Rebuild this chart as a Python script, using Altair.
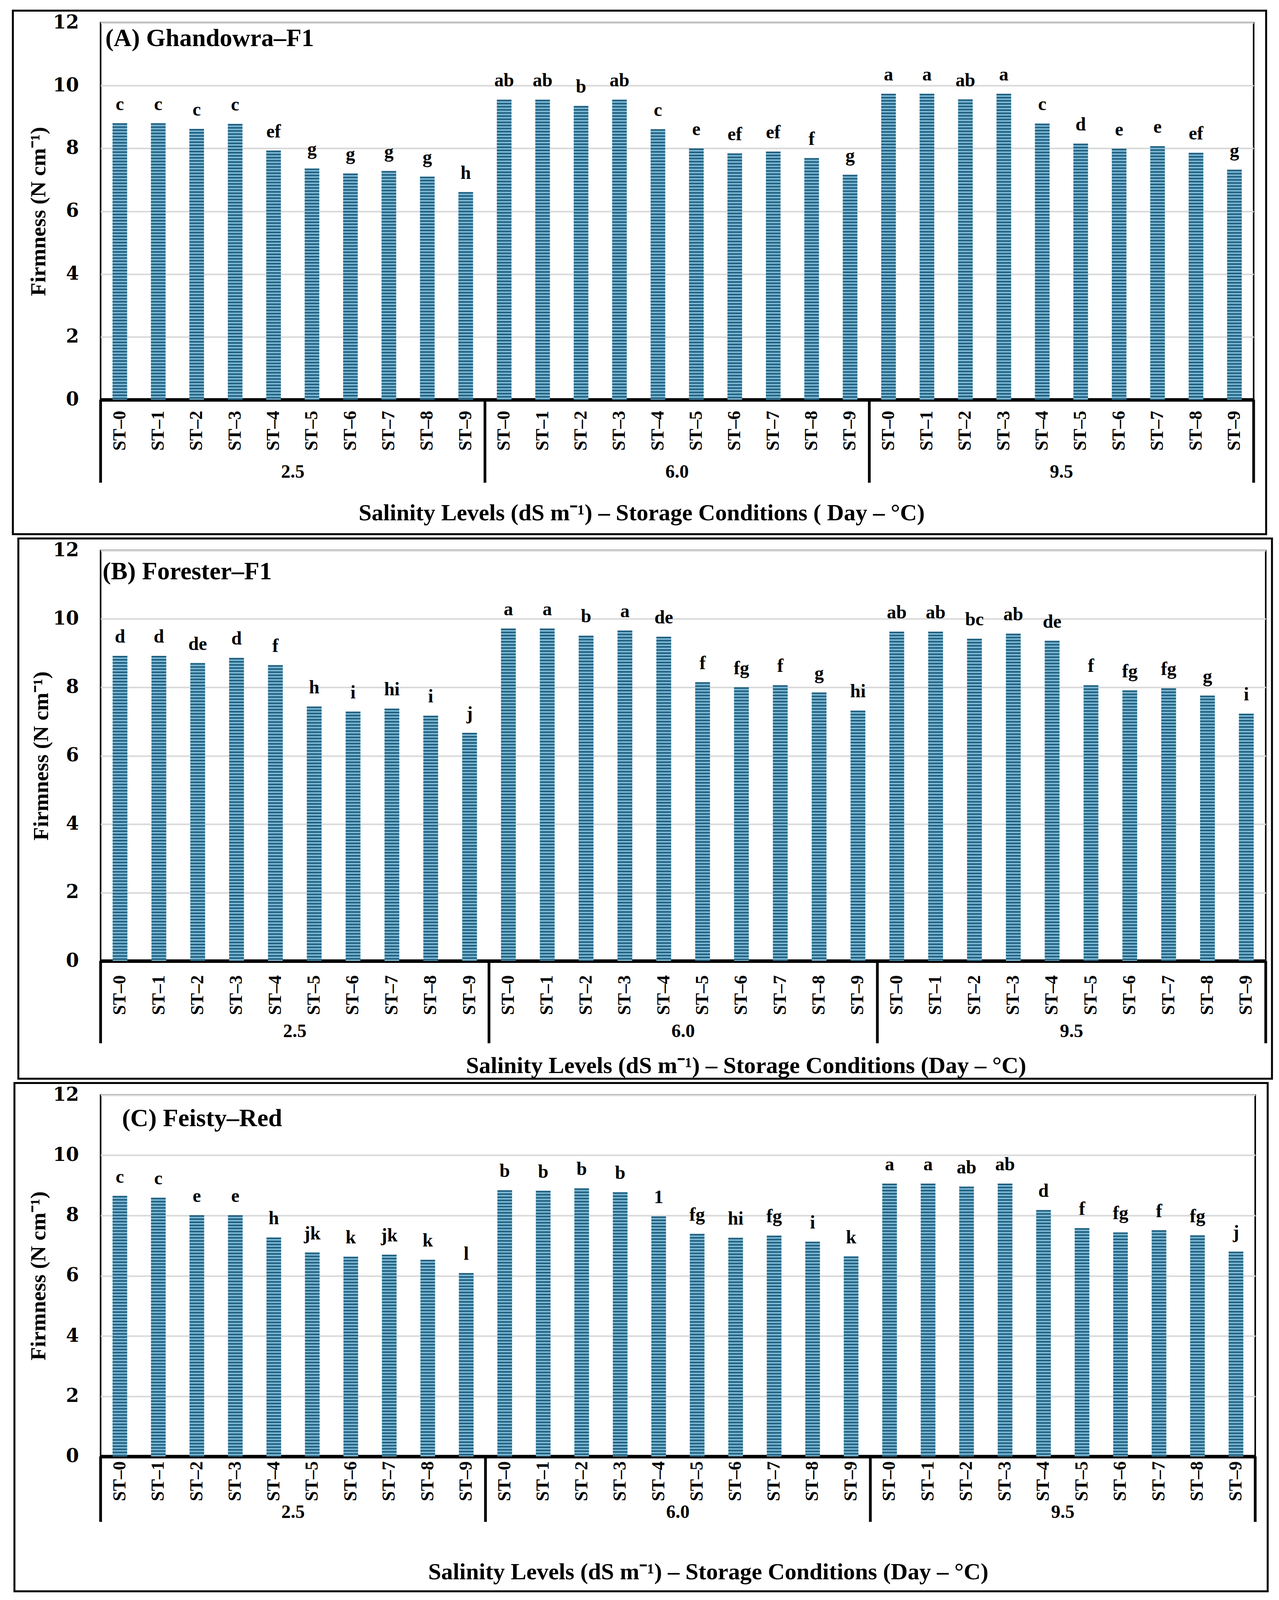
import altair as alt
import pandas as pd

salinity = ["2.5", "6.0", "9.5"]
storage = ["ST–0", "ST–1", "ST–2", "ST–3", "ST–4", "ST–5", "ST–6", "ST–7", "ST–8", "ST–9"]

a_title = "(A) Ghandowra–F1"
a_vals = [8.80, 8.80, 8.62, 8.78, 7.93, 7.36, 7.20, 7.28, 7.10, 6.61,
          9.55, 9.55, 9.35, 9.55, 8.61, 8.00, 7.84, 7.90, 7.69, 7.16,
          9.74, 9.74, 9.56, 9.74, 8.79, 8.15, 7.99, 8.07, 7.86, 7.32]
a_letters = ["c", "c", "c", "c", "ef", "g", "g", "g", "g", "h",
             "ab", "ab", "b", "ab", "c", "e", "ef", "ef", "f", "g",
             "a", "a", "ab", "a", "c", "d", "e", "e", "ef", "g"]

b_title = "(B) Forester–F1"
b_vals = [8.92, 8.92, 8.71, 8.86, 8.65, 7.44, 7.29, 7.38, 7.17, 6.67,
          9.72, 9.72, 9.51, 9.66, 9.48, 8.15, 8.00, 8.06, 7.85, 7.32,
          9.63, 9.63, 9.42, 9.57, 9.36, 8.06, 7.91, 7.97, 7.76, 7.23]
b_letters = ["d", "d", "de", "d", "f", "h", "i", "hi", "i", "j",
             "a", "a", "b", "a", "de", "f", "fg", "f", "g", "hi",
             "ab", "ab", "bc", "ab", "de", "f", "fg", "fg", "g", "i"]

c_title = "(C) Feisty–Red"
c_vals = [8.65, 8.59, 8.01, 8.01, 7.27, 6.77, 6.63, 6.70, 6.53, 6.09,
          8.84, 8.82, 8.90, 8.77, 7.97, 7.39, 7.26, 7.33, 7.13, 6.64,
          9.06, 9.06, 8.96, 9.06, 8.18, 7.58, 7.44, 7.51, 7.34, 6.80]
c_letters = ["c", "c", "e", "e", "h", "jk", "k", "jk", "k", "l",
             "b", "b", "b", "b", "1", "fg", "hi", "fg", "i", "k",
             "a", "a", "ab", "ab", "d", "f", "fg", "f", "fg", "j"]

y_title = "Firmness (N cm⁻¹)"
x_title_a = "Salinity Levels (dS m⁻¹) – Storage Conditions ( Day  – °C)"
x_title_b = "Salinity Levels (dS m⁻¹) – Storage Conditions (Day  – °C)"
x_title_c = "Salinity Levels (dS m⁻¹) – Storage Conditions (Day –  °C)"

LIGHT = "#7db8d3"
DARK = "#1f5f80"
SERIF = "Liberation Serif"


def panel(title, vals, letters, xt, lay):
    W, H = lay["W"], lay["H"]
    keys = [f"{s}|{t}" for s in salinity for t in storage]
    df = pd.DataFrame({"key": keys, "value": vals, "letter": letters})
    xscale = alt.Scale(domain=keys, paddingInner=0, paddingOuter=0)
    xaxis = alt.Axis(
        labelExpr="split(datum.value, '|')[1]",
        labelAngle=-90,
        ticks=False,
        tickSize=0,
        labelPadding=lay["lp"],
        labelFont=SERIF,
        labelFontSize=46,
        labelFontWeight="bold",
        labelColor="black",
        domainColor="black",
        domainWidth=9,
        grid=False,
        title=xt,
        titleFont=SERIF,
        titleFontSize=60,
        titleFontWeight="bold",
        titleColor="black",
        titleX=lay["xtx"],
        titleY=lay["xty"],
        titleAlign="center",
        titleBaseline="middle",
        titleAngle=0,
    )

    def X(band=None):
        if band is None:
            return alt.X("key:N", scale=xscale, axis=xaxis)
        return alt.X("key:N", scale=xscale, axis=xaxis, bandPosition=band)

    Y = alt.Y(
        "value:Q",
        scale=alt.Scale(domain=[0, 12], nice=False),
        axis=alt.Axis(
            values=[0, 2, 4, 6, 8, 10, 12],
            grid=True,
            gridColor="#d9d9d9",
            gridWidth=4,
            domain=False,
            ticks=False,
            tickSize=0,
            labelPadding=56,
            labelFont="DejaVu Serif",
            labelFontSize=48,
            labelFontWeight="bold",
            labelColor="black",
            title=y_title,
            titleFont=SERIF,
            titleFontSize=56,
            titleFontWeight="bold",
            titleColor="black",
            titleX=lay["ytx"],
            titleY=H / 2,
            titleAngle=-90,
            titleAlign="center",
            titleBaseline="middle",
        ),
    )

    base = alt.Chart(df)
    step = W / 30.0
    bw = step * 0.38

    border = alt.Chart(pd.DataFrame({"p": [0]})).mark_rect(
        fill="white", fillOpacity=0, stroke="black", strokeWidth=5
    ).encode(
        x=alt.value(-lay["L"]), x2=alt.value(W + lay["R"]),
        y=alt.value(-lay["T"]), y2=alt.value(H + lay["B"]),
    )

    bars = base.mark_bar(width=alt.RelativeBandSize(0.38), color=LIGHT).encode(x=X(), y=Y)
    stripes = base.mark_rule(
        color=DARK, strokeWidth=bw, strokeDash=[4, 4], strokeCap="butt"
    ).encode(x=X(), y=Y, y2=alt.datum(0))
    labels = base.mark_text(
        font=SERIF, fontSize=48, fontWeight="bold", color="black",
        baseline="alphabetic", dy=-34,
    ).encode(x=X(), y=Y, text="letter:N")

    gdf = pd.DataFrame({"key": [f"{s}|{storage[4]}" for s in salinity], "lab": salinity})
    glabels = alt.Chart(gdf).mark_text(
        font=SERIF, fontSize=48, fontWeight="bold", color="black", baseline="middle"
    ).encode(x=X(1), y=alt.value(H + lay["gl"]), text="lab:N")

    ddf = pd.DataFrame({"key": [f"{s}|{storage[0]}" for s in salinity]})
    div1 = alt.Chart(ddf).mark_rule(color="black", strokeWidth=7).encode(
        x=X(0), y=alt.value(H), y2=alt.value(H + lay["div"])
    )
    edf = pd.DataFrame({"key": [f"{salinity[-1]}|{storage[-1]}"]})
    div2 = alt.Chart(edf).mark_rule(color="black", strokeWidth=7).encode(
        x=X(1), y=alt.value(H), y2=alt.value(H + lay["div"])
    )

    tdf = pd.DataFrame({"t": [title]})
    ptitle = alt.Chart(tdf).mark_text(
        font=SERIF, fontSize=64, fontWeight="bold", color="black",
        align="left", baseline="alphabetic",
    ).encode(x=alt.value(lay["ttx"]), y=alt.value(lay["tty"]), text="t:N")

    return alt.layer(border, bars, stripes, labels, glabels, div1, div2, ptitle).properties(
        width=W, height=H
    )


lay_a = dict(W=2957, H=967, L=225, R=32, T=31, B=345, lp=28, gl=186, div=213,
             xtx=1387, xty=291, ytx=-159, ttx=12, tty=60)
lay_b = dict(W=2988, H=1053, L=211, R=16, T=31, B=302, lp=36, gl=181, div=211,
             xtx=1655, xty=269, ytx=-152, ttx=5, tty=74)
lay_c = dict(W=2961, H=927, L=221, R=32, T=31, B=346, lp=12, gl=144, div=168,
             xtx=1558, xty=297, ytx=-159, ttx=55, tty=80)

chart = alt.vconcat(
    panel(a_title, a_vals, a_letters, x_title_a, lay_a),
    panel(b_title, b_vals, b_letters, x_title_b, lay_b),
    panel(c_title, c_vals, c_letters, x_title_c, lay_c),
    spacing=1,
).properties(
    padding={"left": 20, "top": 10, "right": 5, "bottom": 5},
    background="white",
).configure_view(
    stroke="black", strokeWidth=4
)

chart.save("out.html", embed_options={"renderer": "svg", "actions": False})
